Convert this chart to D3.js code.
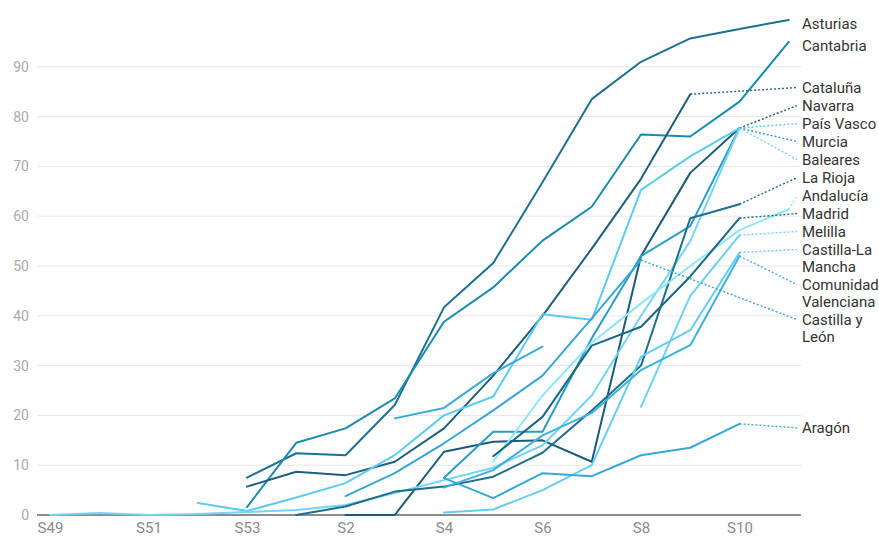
<!DOCTYPE html>
<html>
<head>
<meta charset="utf-8">
<script src="https://cdn.jsdelivr.net/npm/d3@7"></script>
<style>
  html, body { margin: 0; padding: 0; background: #fff; }
  svg { display: block; font-family: Roboto, "Noto Sans", sans-serif; }
</style>
</head>
<body>
<svg id="chart" width="879" height="538"></svg>
<script>
// Semanas epidemiológicas (eje X)
const weeks = ["S49","S50","S51","S52","S53","S1","S2","S3","S4","S5","S6","S7","S8","S9","S10","S11"];
const weekTicks = ["S49","S51","S53","S2","S4","S6","S8","S10"];
const valueTicks = [0, 10, 20, 30, 40, 50, 60, 70, 80, 90];

// Valores por comunidad, una posición por semana (null = sin dato)
const asturias   = [null, null, null, null, 7.5, 12.4, 12.0, 22.1, 41.7, 50.6, 66.8, 83.5, 91.0, 95.7, 97.6, 99.4];
const cantabria  = [null, null, null, null, 1.6, 14.5, 17.4, 23.4, 38.8, 45.7, 55.1, 61.9, 76.4, 76.0, 83.0, 95.0];
const cataluna   = [null, null, null, null, 5.7, 8.7, 8.0, 10.7, 17.4, 28.0, 40.0, 53.5, 67.5, 84.5, null, null];
const navarra    = [null, null, null, null, null, null, 0, 0, 12.7, 14.7, 15.0, 10.7, 52.0, 68.7, 77.7, null];
const paisVasco  = [null, null, null, 2.4, 0.8, 3.5, 6.4, 12.0, 20.0, 23.8, 40.3, 39.2, 65.3, 72.0, 77.7, null];
const murcia     = [null, null, null, null, null, null, null, null, 7.5, 16.7, 16.7, 35.5, 52.0, 58.0, 77.7, null];
const baleares   = [0, 0.4, 0, 0.2, 0.6, 1.0, 2.0, 4.4, 7.0, 9.5, 14.0, 24.0, 40.0, 55.0, 77.7, null];
const laRioja    = [null, null, null, null, null, 0, 1.7, 4.7, 5.7, 7.7, 12.5, 21.0, 30.0, 59.6, 62.4, null];
const andalucia  = [null, null, null, null, null, null, null, null, null, 10.7, 24.0, 34.6, 42.5, 50.0, 57.2, 61.4];
const madrid     = [null, null, null, null, null, null, null, null, null, 11.8, 19.7, 34.0, 37.8, 47.9, 59.6, null];
const melilla    = [null, null, null, null, null, null, null, null, null, null, null, null, 21.7, 44.0, 56.2, null];
const castillaLM = [null, null, null, null, null, null, null, null, 0.5, 1.1, 5.0, 10.0, 31.8, 37.1, 52.7, null];
const comValenc  = [null, null, null, null, null, null, null, null, 5.5, 9.0, 16.0, 20.5, 29.1, 34.1, 52.0, null];
const castillaYL = [null, null, null, null, null, null, 3.8, 8.4, 14.4, 21.0, 28.0, 39.5, 51.2, null, null, null];
const aragon     = [null, null, null, null, null, null, null, null, 7.4, 3.4, 8.4, 7.8, 12.0, 13.5, 18.3, null];
const sinRotulo  = [null, null, null, null, null, null, null, 19.4, 21.5, 28.5, 33.8, null, null, null, null, null];

// Tabla de series: rótulo (líneas de texto), valores y color
const series = [
  { label: ["Asturias"], values: asturias, color: "#1f6f8f" },
  { label: ["Cantabria"], values: cantabria, color: "#1a8ab0" },
  { label: ["Cataluña"], values: cataluna, color: "#1d5f7d" },
  { label: ["Navarra"], values: navarra, color: "#1b5a78" },
  { label: ["País Vasco"], values: paisVasco, color: "#5ccbf0" },
  { label: ["Murcia"], values: murcia, color: "#2a9cc6" },
  { label: ["Baleares"], values: baleares, color: "#74d4f4" },
  { label: ["La Rioja"], values: laRioja, color: "#1e6e8d" },
  { label: ["Andalucía"], values: andalucia, color: "#8ee6f8" },
  { label: ["Madrid"], values: madrid, color: "#1a6686" },
  { label: ["Melilla"], values: melilla, color: "#6bd0f2" },
  { label: ["Castilla-La", "Mancha"], values: castillaLM, color: "#66ccf0" },
  { label: ["Comunidad", "Valenciana"], values: comValenc, color: "#3db0dc" },
  { label: ["Castilla y", "León"], values: castillaYL, color: "#38a6d2" },
  { label: ["Aragón"], values: aragon, color: "#35a8d6" },
  { label: null, values: sinRotulo, color: "#3aaad8" }
];

const svg = d3.select("#chart");
const x = d3.scalePoint().domain(weeks).range([50, 788.75]);
const y = d3.scaleLinear().domain([0, 100]).range([515, 17]);

const gridLeft = 37, gridRight = 801;

// Rejilla horizontal y etiquetas del eje Y
const yAxis = svg.append("g");
yAxis.selectAll("line.grid")
  .data(valueTicks.filter(t => t > 0))
  .join("line")
  .attr("class", "grid")
  .attr("x1", gridLeft).attr("x2", gridRight)
  .attr("y1", d => y(d)).attr("y2", d => y(d))
  .attr("stroke", "#e6e6e6").attr("stroke-width", 1);
yAxis.selectAll("text")
  .data(valueTicks)
  .join("text")
  .attr("x", 29).attr("y", d => y(d))
  .attr("dy", "0.36em")
  .attr("text-anchor", "end")
  .attr("font-size", 14)
  .attr("fill", "#aaaaaa")
  .text(d => d);

// Eje X con d3.axisBottom
const xAxis = svg.append("g")
  .attr("transform", `translate(0,${y(0)})`)
  .call(d3.axisBottom(x).tickValues(weekTicks).tickSize(0).tickPadding(7));
xAxis.select(".domain").remove();
xAxis.selectAll("text")
  .attr("font-size", 15)
  .attr("font-family", "Roboto, sans-serif")
  .attr("fill", "#8a8a8a");

// Línea base
svg.append("line")
  .attr("x1", gridLeft).attr("x2", gridRight)
  .attr("y1", y(0)).attr("y2", y(0))
  .attr("stroke", "#666").attr("stroke-width", 1.6);

// Líneas de cada comunidad
const line = d3.line()
  .defined(d => d.v != null)
  .x(d => x(d.w))
  .y(d => y(d.v));

const lines = svg.append("g");
series.forEach(s => {
  const pts = weeks.map((w, i) => ({ w, v: s.values[i] }));
  lines.append("path")
    .attr("d", line(pts))
    .attr("fill", "none")
    .attr("stroke", s.color)
    .attr("stroke-width", 2)
    .attr("stroke-linejoin", "round")
    .attr("stroke-linecap", "round");
  let last = -1;
  s.values.forEach((v, i) => { if (v != null) last = i; });
  s.endX = x(weeks[last]);
  s.endY = y(s.values[last]);
});

// Colocación de rótulos: se agrupan los que se solapan y se centran en su posición deseada
const LINE = 17, BLOCK = 18, BIAS = 4;
const labeled = series.filter(s => s.label)
  .map(s => ({ s, desired: s.endY + BIAS, h: BLOCK + LINE * (s.label.length - 1) }))
  .sort((a, b) => a.desired - b.desired);

let blocks = labeled.map(l => ({ items: [l], top: l.desired - BLOCK / 2 }));
function blockHeight(b) { return d3.sum(b.items, i => i.h); }
function placeBlock(b) {
  let off = 0;
  const diffs = b.items.map(it => { const d = it.desired - (off + BLOCK / 2); off += it.h; return d; });
  b.top = Math.max(8, d3.mean(diffs));
}
let merged = true;
while (merged) {
  merged = false;
  for (let i = 0; i < blocks.length - 1; i++) {
    const a = blocks[i], b = blocks[i + 1];
    if (a.top + blockHeight(a) > b.top) {
      a.items = a.items.concat(b.items);
      placeBlock(a);
      blocks.splice(i + 1, 1);
      merged = true;
      break;
    }
  }
}
blocks.forEach(b => {
  let off = 0;
  b.items.forEach(it => { it.labelY = b.top + off + BLOCK / 2; off += it.h; });
});

const labelX = 802, leaderEnd = 797;
const labelsG = svg.append("g");
labeled.forEach(l => {
  const s = l.s;
  const needsLeader = s.endX < x(weeks[weeks.length - 1]) - 1 || Math.abs(l.labelY - s.endY) > 7;
  if (needsLeader) {
    labelsG.append("line")
      .attr("x1", s.endX).attr("y1", s.endY)
      .attr("x2", leaderEnd).attr("y2", l.labelY)
      .attr("stroke", s.color)
      .attr("stroke-width", 1.4)
      .attr("stroke-dasharray", "2,2");
  }
  const t = labelsG.append("text")
    .attr("x", labelX).attr("y", l.labelY)
    .attr("font-size", 15)
    .attr("fill", "#333");
  s.label.forEach((txt, k) => {
    t.append("tspan")
      .attr("x", labelX)
      .attr("dy", k === 0 ? "0.35em" : LINE)
      .text(txt);
  });
});
</script>
</body>
</html>
